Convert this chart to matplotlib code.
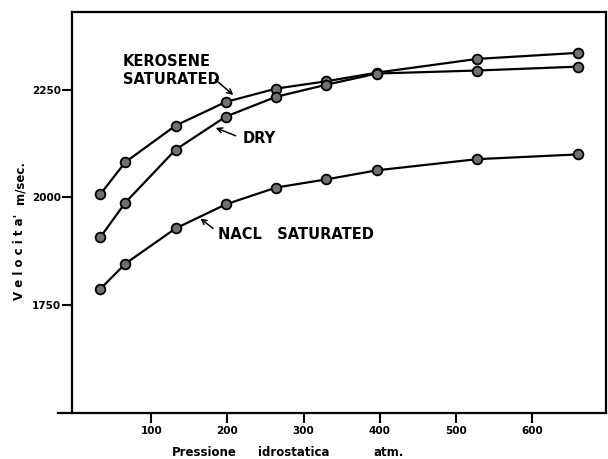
import matplotlib.pyplot as plt

# Sound velocity vs hydrostatic pressure for three saturation states
pressure = [33, 66, 132, 198, 264, 330, 396, 528, 660]
kerosene = [2007, 2082, 2167, 2222, 2253, 2270, 2290, 2322, 2336]
dry = [1907, 1988, 2111, 2188, 2234, 2262, 2288, 2295, 2304]
nacl = [1787, 1846, 1928, 1984, 2023, 2042, 2063, 2089, 2100]

x_ticks = [100, 200, 300, 400, 500, 600]
y_ticks = [1750, 2000, 2250]

W, H = 608, 459


def fx(px):
    return px / W


def fy(py):
    return 1 - py / H


fig = plt.figure(figsize=(W / 100, H / 100), dpi=100)
ax = fig.add_axes([fx(72), fy(413), (606 - 72) / W, (413 - 12) / H])

marker_style = dict(marker='o', markersize=7, markerfacecolor='#707070',
                    markeredgecolor='black', markeredgewidth=1.3)
for series in (kerosene, dry, nacl):
    ax.plot(pressure, series, color='black', linewidth=1.6, **marker_style)

ax.set_xlim(-4, 697)
ax.set_ylim(1499, 2431)
ax.set_xticks(x_ticks)
ax.set_yticks(y_ticks)
ax.tick_params(axis='both', direction='out', length=7, width=1.5,
               labelsize=7.5, color='black')
ax.tick_params(axis='x', pad=2)
ax.tick_params(axis='y', pad=1)
for lab in ax.get_xticklabels() + ax.get_yticklabels():
    lab.set_fontweight('bold')
for side in ax.spines.values():
    side.set_linewidth(1.6)

# bottom axis line runs a little past the left spine
ax.plot([-0.027, 0], [0, 0], transform=ax.transAxes, color='black',
        linewidth=1.6, clip_on=False)

label_font = dict(fontsize=10.5, fontweight='bold', color='black')
arrow = dict(arrowstyle='->,head_length=0.35,head_width=0.18',
             color='black', linewidth=1.1)

ax.text(62.6, 2296, 'KEROSENE\nSATURATED', va='center', ha='left',
        linespacing=1.25, **label_font)
ax.annotate('', xy=(210.5, 2234), xytext=(181.3, 2278), arrowprops=arrow)

ax.text(219.7, 2136, 'DRY', va='center', ha='left', **label_font)
ax.annotate('', xy=(181.4, 2164), xytext=(214.2, 2141), arrowprops=arrow)

ax.text(188, 1913, 'NACL   SATURATED', va='center', ha='left', **label_font)
ax.annotate('', xy=(161.7, 1955), xytext=(184, 1924), arrowprops=arrow)

# axis titles
title_font = dict(fontsize=8.5, fontweight='bold', color='black')
fig.text(fx(172), fy(452), 'Pressione', ha='left', va='center', **title_font)
fig.text(fx(258), fy(452), 'idrostatica', ha='left', va='center', **title_font)
fig.text(fx(373), fy(452), 'atm.', ha='left', va='center', **title_font)

fig.text(fx(20), fy(257), "V e l o c i t a'", rotation=90, ha='center',
         va='center', **title_font)
fig.text(fx(20), fy(183), 'm/sec.', rotation=90, ha='center',
         va='center', **title_font)

fig.savefig('out.png', dpi=100)
